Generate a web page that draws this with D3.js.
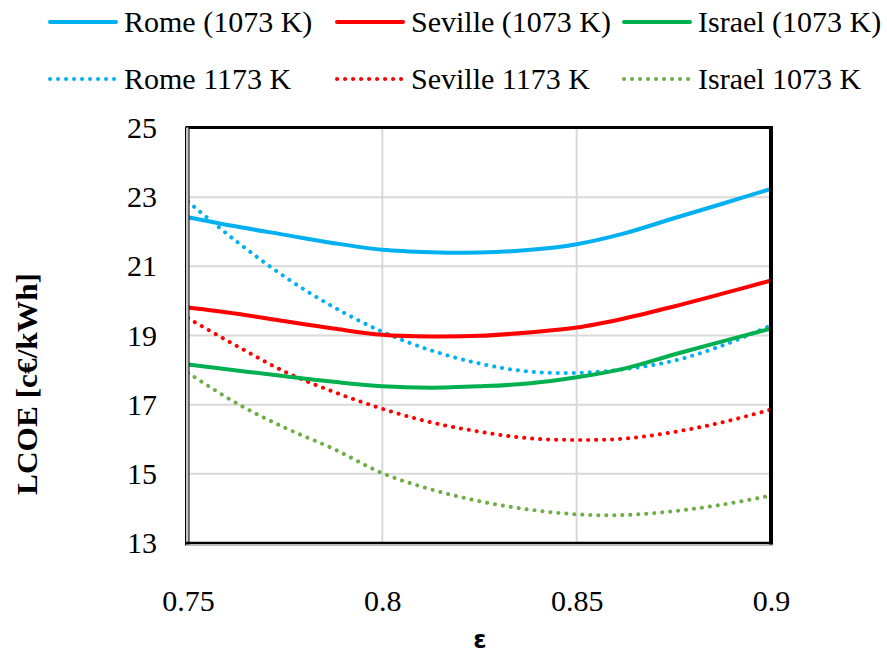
<!DOCTYPE html>
<html><head><meta charset="utf-8">
<script src="https://cdn.jsdelivr.net/npm/d3@7/dist/d3.min.js"></script>
<style>body{margin:0;background:#fff}svg{display:block}
.sf{font-family:"Liberation Serif","DejaVu Serif",serif}</style>
</head><body>
<svg id="c" width="887" height="654"></svg>
<script>
const eps = [0.75,0.7625,0.775,0.7875,0.8,0.8125,0.825,0.8375,0.85,0.8625,0.875,0.8875,0.9];
const rome1073    = [22.42,22.15,21.91,21.67,21.48,21.41,21.40,21.47,21.64,21.96,22.39,22.81,23.24];
const seville1073 = [19.81,19.63,19.41,19.20,19.02,18.97,18.99,19.09,19.23,19.50,19.84,20.21,20.59];
const israel1073  = [18.16,17.99,17.82,17.66,17.53,17.49,17.53,17.61,17.79,18.05,18.45,18.83,19.20];
const rome1173    = [22.87,21.72,20.69,19.82,19.11,18.57,18.19,17.96,17.92,18.03,18.27,18.71,19.29];
const seville1173 = [19.50,18.70,17.95,17.37,16.88,16.49,16.22,16.03,15.98,16.02,16.21,16.49,16.86];
const israel1073b = [17.92,17.04,16.33,15.72,15.02,14.55,14.21,13.97,13.83,13.81,13.92,14.11,14.37];
const xTicks = [0.75,0.8,0.85,0.9];
const yTicks = [13,15,17,19,21,23,25];
const seriesNames = ["Rome (1073 K)","Seville (1073 K)","Israel (1073 K)","Rome 1173 K","Seville 1173 K","Israel 1073 K"];
const seriesColors = ["#00B0F0","#FF0000","#00B050","#00B0F0","#FF0000","#70AD47"];
const seriesData = [rome1073,seville1073,israel1073,rome1173,seville1173,israel1073b];
const seriesDotted = [false,false,false,true,true,true];

const svg = d3.select("#c");
const L=188, R=771, T=128, B=543;
const x = d3.scaleLinear().domain([0.75,0.9]).range([L,R]);
const y = d3.scaleLinear().domain([13,25]).range([B,T]);

// grid
svg.append("g").selectAll("line").data(yTicks.filter(v=>v>13&&v<25)).join("line")
  .attr("x1",L).attr("x2",R).attr("y1",d=>y(d)).attr("y2",d=>y(d))
  .attr("stroke","#d9d9d9").attr("stroke-width",2);
svg.append("g").selectAll("line").data(xTicks.filter(v=>v>0.75&&v<0.9)).join("line")
  .attr("y1",T).attr("y2",B).attr("x1",d=>x(d)).attr("x2",d=>x(d))
  .attr("stroke","#d9d9d9").attr("stroke-width",2);

// series
const line = d3.line().x((d,i)=>x(eps[i])).y(d=>y(d)).curve(d3.curveCatmullRom.alpha(0.5));
[3,4,5,2,1,0].forEach(k=>{
  const p = svg.append("path").datum(seriesData[k]).attr("d",line)
    .attr("fill","none").attr("stroke",seriesColors[k]).attr("stroke-width",4).attr("stroke-linecap","round");
  if(seriesDotted[k]) p.attr("stroke-dasharray","0.1 7.9");
});

// frame
svg.append("line").attr("x1",L-2).attr("x2",R+2).attr("y1",T-0.5).attr("y2",T-0.5).attr("stroke","#000").attr("stroke-width",3);
svg.append("line").attr("x1",R).attr("x2",R).attr("y1",T-2).attr("y2",B+2).attr("stroke","#000").attr("stroke-width",4);
svg.append("rect").attr("x",L-2.5).attr("y",T-1).attr("width",3.5).attr("height",B-T+3).attr("fill","#c8c8c8").attr("stroke","#000").attr("stroke-width",1);
svg.append("line").attr("x1",L-2).attr("x2",R+2).attr("y1",B).attr("y2",B).attr("stroke","#000").attr("stroke-width",2.5);
svg.append("line").attr("x1",L-2).attr("x2",R+2).attr("y1",B+2.3).attr("y2",B+2.3).attr("stroke","#bbb").attr("stroke-width",1.5);

// axes
const ax = svg.append("g").attr("transform",`translate(0,${B})`)
  .call(d3.axisBottom(x).tickValues(xTicks).tickSize(0).tickPadding(47).tickFormat(d=>String(d)));
ax.select(".domain").remove();
ax.selectAll("text").attr("class","sf").attr("font-family",null).attr("font-size",30).attr("fill","#000");
const ay = svg.append("g").attr("transform",`translate(${L},0)`)
  .call(d3.axisLeft(y).tickValues(yTicks).tickSize(0).tickPadding(31));
ay.select(".domain").remove();
ay.selectAll("text").attr("class","sf").attr("font-size",30).attr("fill","#000");
ax.attr("font-family",null); ay.attr("font-family",null);

// axis titles
svg.append("text").attr("class","sf").attr("transform","translate(37,384) rotate(-90)").attr("text-anchor","middle")
  .attr("font-weight","bold").attr("font-size",29)
  .attr("textLength",222).attr("lengthAdjust","spacingAndGlyphs").text("LCOE [c€/kWh]");
svg.append("text").attr("x",480).attr("y",648).attr("text-anchor","middle")
  .attr("font-family","DejaVu Sans, sans-serif").attr("font-weight","bold").attr("font-size",24).text("ε");

// legend
const legX=[48,335,622], legY=[22,79];
seriesNames.forEach((n,k)=>{
  const cx=legX[k%3], cy=legY[Math.floor(k/3)];
  const l=svg.append("line").attr("x1",cx+2).attr("x2",cx+68).attr("y1",cy).attr("y2",cy)
    .attr("stroke",seriesColors[k]).attr("stroke-width",4).attr("stroke-linecap","round");
  if(seriesDotted[k]) l.attr("stroke-dasharray","0.1 7.9");
  svg.append("text").attr("class","sf").attr("x",cx+76).attr("y",cy+10).attr("font-size",30)
    .attr("fill","#000").text(n);
});
</script>
</body></html>
